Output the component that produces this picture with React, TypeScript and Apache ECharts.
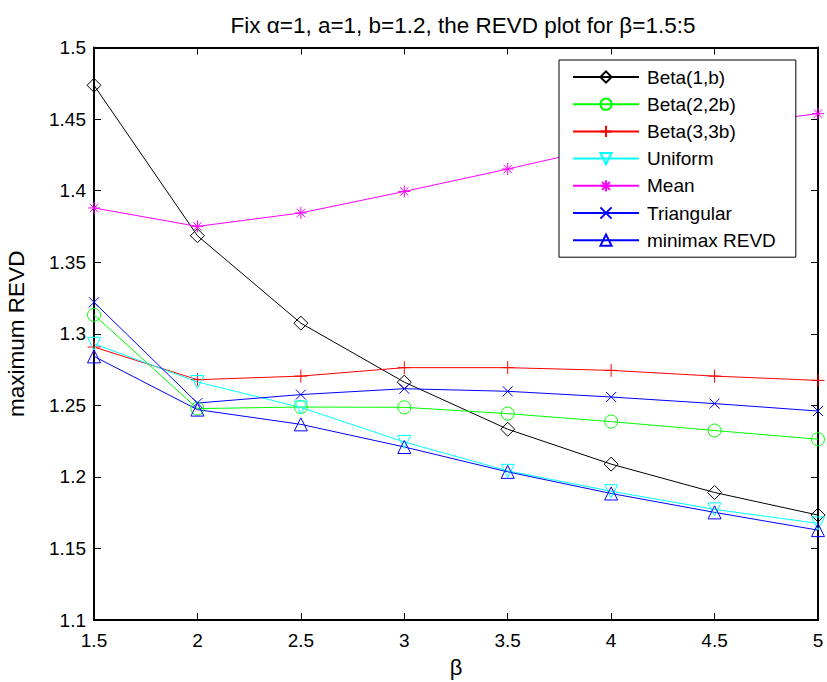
import React, { useEffect, useRef } from "react";
import * as echarts from "echarts";

const betaValues = [1.5, 2, 2.5, 3, 3.5, 4, 4.5, 5];
const beta1b = [1.4736, 1.3685, 1.3074, 1.2662, 1.2333, 1.2089, 1.1891, 1.1733];
const beta22b = [1.3132, 1.2477, 1.2488, 1.2486, 1.2442, 1.2386, 1.2324, 1.2263];
const beta33b = [1.2907, 1.2679, 1.2704, 1.2763, 1.2763, 1.2744, 1.2704, 1.2674];
const uniform = [1.293, 1.2663, 1.2485, 1.2244, 1.2042, 1.19, 1.1773, 1.1675];
const meanVals = [1.3879, 1.375, 1.3844, 1.3994, 1.4151, 1.4315, 1.4446, 1.4538];
const triangular = [1.322, 1.2516, 1.2575, 1.2616, 1.2598, 1.2558, 1.2512, 1.246];
const minimax = [1.2842, 1.247, 1.2367, 1.2209, 1.2035, 1.1884, 1.1752, 1.1628];

const yTicks = ["1.1", "1.15", "1.2", "1.25", "1.3", "1.35", "1.4", "1.45", "1.5"];
const xTicks = ["1.5", "2", "2.5", "3", "3.5", "4", "4.5", "5"];

const FONT = "Liberation Sans, Arial, Helvetica, sans-serif";

const SYM = {
  diamond: "path://M0,-1 L1,0 L0,1 L-1,0 Z",
  circle: "circle",
  plus: "path://M0,-1 L0,1 M-1,0 L1,0",
  triDown: "path://M-1,-0.85 L1,-0.85 L0,0.9 Z",
  star: "path://M0,-1 L0,1 M-1,0 L1,0 M-0.7,-0.7 L0.7,0.7 M-0.7,0.7 L0.7,-0.7",
  cross: "path://M-1,-1 L1,1 M-1,1 L1,-1",
  triUp: "path://M-1,0.85 L1,0.85 L0,-0.9 Z",
};

export default function App() {
  const ref = useRef<HTMLDivElement>(null);
  useEffect(() => {
    if (!ref.current) return;
    const chart = echarts.init(ref.current, undefined, { renderer: "svg" });
    const mk = (name: string, vals: number[], color: string, symbol: string, size: number) => ({
      name,
      type: "line",
      data: betaValues.map((b, i) => [b, vals[i]]),
      symbol,
      symbolSize: size,
      showAllSymbol: true,
      lineStyle: { color, width: 1 },
      itemStyle: { color: "none", borderColor: color, borderWidth: 1 },
      emphasis: { disabled: true },
      z: 3,
    });
    const axisLine = { show: true, onZero: false, lineStyle: { color: "#000", width: 2 } };
    const axisTick = { show: true, inside: true, length: 7, lineStyle: { color: "#000", width: 1 } };
    chart.setOption({
      animation: false,
      backgroundColor: "#fff",
      title: {
        text: "Fix \u03b1=1, a=1, b=1.2, the REVD plot for \u03b2=1.5:5",
        left: 458,
        textAlign: "center",
        top: 9,
        textStyle: { fontFamily: FONT, fontSize: 22.5, fontWeight: "normal", color: "#000" },
      },
      grid: { left: 94, right: 9, top: 47.5, bottom: 62, containLabel: false, outerBoundsMode: "none" },
      legend: {
        orient: "vertical",
        left: 559,
        top: 60,
        width: 244,
        padding: [7, 20, 7, 13],
        itemGap: 7.2,
        itemWidth: 66,
        itemHeight: 14,
        backgroundColor: "#fff",
        borderColor: "#000",
        borderWidth: 1,
        textStyle: { fontFamily: FONT, fontSize: 19, lineHeight: 20, color: "#000", padding: [0, 0, 0, 3] },
        data: ["Beta(1,b)", "Beta(2,2b)", "Beta(3,3b)", "Uniform", "Mean", "Triangular", "minimax REVD"],
      },
      xAxis: [
        {
          type: "value",
          min: 1.5,
          max: 5,
          interval: 0.5,
          name: "\u03b2",
          nameLocation: "middle",
          nameGap: 36,
          nameTextStyle: { fontFamily: FONT, fontSize: 22, color: "#000" },
          axisLine,
          axisTick,
          splitLine: { show: false },
          axisLabel: {
            fontFamily: FONT,
            fontSize: 19,
            color: "#000",
            margin: 11,
            formatter: (v: number) => xTicks[Math.round((v - 1.5) / 0.5)] ?? String(v),
          },
        },
        {
          type: "value",
          position: "top",
          min: 1.5,
          max: 5,
          interval: 0.5,
          axisLine,
          axisTick,
          splitLine: { show: false },
          axisLabel: { show: false },
        },
      ],
      yAxis: [
        {
          type: "value",
          min: 1.1,
          max: 1.5,
          interval: 0.05,
          name: "maximum REVD",
          nameLocation: "middle",
          nameGap: 66,
          nameTextStyle: { fontFamily: FONT, fontSize: 22.5, color: "#000" },
          axisLine,
          axisTick,
          splitLine: { show: false },
          axisLabel: {
            fontFamily: FONT,
            fontSize: 19,
            color: "#000",
            margin: 8,
            formatter: (v: number) => yTicks[Math.round((v - 1.1) / 0.05)] ?? String(v),
          },
        },
        {
          type: "value",
          position: "right",
          min: 1.1,
          max: 1.5,
          interval: 0.05,
          axisLine,
          axisTick,
          splitLine: { show: false },
          axisLabel: { show: false },
        },
      ],
      series: [
        mk("Beta(1,b)", beta1b, "#000000", SYM.diamond, 14),
        mk("Beta(2,2b)", beta22b, "#00ff00", SYM.circle, 13),
        mk("Beta(3,3b)", beta33b, "#ff0000", SYM.plus, 13),
        mk("Uniform", uniform, "#00ffff", SYM.triDown, 13),
        mk("Mean", meanVals, "#ff00ff", SYM.star, 12),
        mk("Triangular", triangular, "#0000ff", SYM.cross, 10),
        mk("minimax REVD", minimax, "#0000ff", SYM.triUp, 13),
      ],
    });
    return () => chart.dispose();
  }, []);
  return (
    <div
      ref={ref}
      style={{ position: "fixed", left: 0, top: 0, width: 827, height: 682, background: "#fff" }}
    />
  );
}
